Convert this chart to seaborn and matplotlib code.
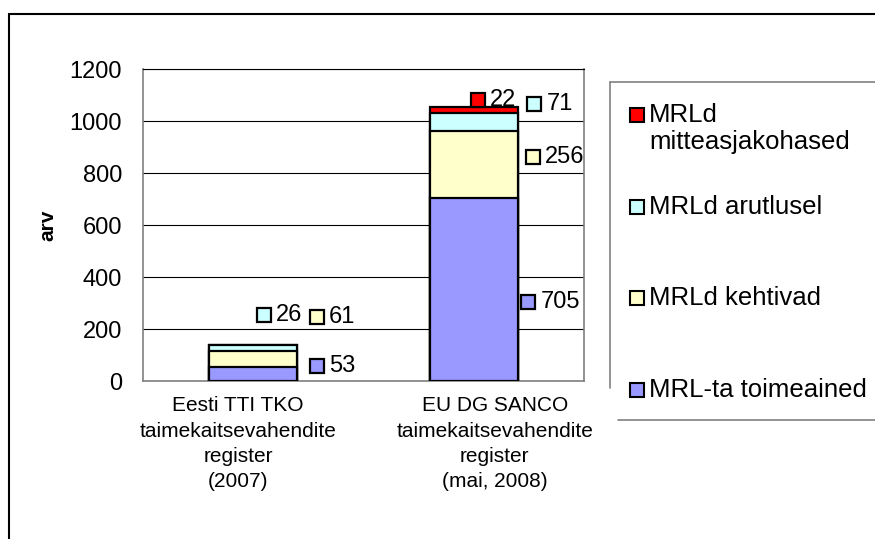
import numpy as np
import pandas as pd
import matplotlib
matplotlib.use("Agg")
import matplotlib.pyplot as plt
import matplotlib.transforms as mtransforms
from matplotlib.lines import Line2D
from matplotlib.patches import Rectangle
import seaborn as sns

# --- data -------------------------------------------------------------
categories = [
    "Eesti TTI TKO\ntaimekaitsevahendite\nregister\n(2007)",
    "EU DG SANCO\ntaimekaitsevahendite\nregister\n(mai, 2008)",
]
series_names = ["MRL-ta toimeained", "MRLd kehtivad", "MRLd arutlusel", "MRLd\nmitteasjakohased"]
mrl_ta = [53, 705]
mrl_kehtivad = [61, 256]
mrl_arutlusel = [26, 71]
mrl_mitteasjakohased = [0, 22]
y_ticks = [0, 200, 400, 600, 800, 1000, 1200]

# --- styling ----------------------------------------------------------
colors = ["#9999FF", "#FFFFCC", "#CCFFFF", "#FF0000"]
# label square offsets (pixels) from (bar right edge, segment middle)
label_offsets = {
    (0, 0): (19.5, 8), (0, 1): (19.5, 42), (0, 2): (-33.5, 33),
    (1, 0): (10.5, -13), (1, 1): (15.5, 7), (1, 2): (16.5, 18), (1, 3): (-39.5, 10),
}
# horizontal shift (pixels) of the category labels, as Excel placed them
xlabel_shift = [-15, 21]

W, H = 875, 539
sns.set_theme(style="white")
plt.rcParams["font.family"] = ["Liberation Sans", "DejaVu Sans"]
plt.rcParams["text.color"] = "black"
plt.rcParams["xtick.labelcolor"] = "black"
plt.rcParams["ytick.labelcolor"] = "black"
plt.rcParams["axes.labelcolor"] = "black"


def fx(x):
    return x / W


def fy(y):
    return 1 - y / H


fig = plt.figure(figsize=(W / 100, H / 100), dpi=100)
ax = fig.add_axes([fx(143), fy(381), (584 - 143) / W, (381 - 69) / H])

layers = [mrl_ta, mrl_kehtivad, mrl_arutlusel, mrl_mitteasjakohased]
cum = np.cumsum(np.array(layers), axis=0)

# stacked bars: draw cumulative totals from the top layer down
for i in range(len(layers) - 1, -1, -1):
    df = pd.DataFrame({"cat": categories, "value": cum[i]})
    sns.barplot(data=df, x="cat", y="value", color=colors[i], saturation=1,
                width=0.4, edgecolor="black", linewidth=1.6, ax=ax, zorder=3)

ax.set_ylim(0, 1200)
ax.set_xlim(-0.5, 1.5)
ax.set_yticks(y_ticks)
ax.set_yticklabels([str(t) for t in y_ticks], fontsize=17)
ax.tick_params(axis="y", direction="inout", length=7, width=0.8, color="#404040", pad=11.5)
ax.tick_params(axis="x", which="major", length=0, labelsize=15, pad=11)
ax.set_xticks([-0.5, 0.5, 1.5], minor=True)
ax.tick_params(axis="x", which="minor", direction="out", length=4.5, width=0.8, color="#404040")
for lab, shift in zip(ax.get_xticklabels(), xlabel_shift):
    lab.set_linespacing(1.42)
    lab.set_transform(lab.get_transform() + mtransforms.Affine2D().translate(shift, 0))
ax.set_xlabel("")
ax.set_ylabel("arv", fontsize=15, fontweight="bold")
ax.yaxis.set_label_coords((57 - 143) / (584 - 143), 0.5)
ax.grid(axis="y", color="black", linewidth=0.8, zorder=0)
ax.set_axisbelow(True)
for side in ["left", "bottom", "right"]:
    ax.spines[side].set_color("#808080")
    ax.spines[side].set_linewidth(1.2)
ax.spines["top"].set_color("black")
ax.spines["top"].set_linewidth(0.8)

# data labels with colour key squares
for c in range(len(categories)):
    for s in range(len(layers)):
        val = layers[s][c]
        if val == 0:
            continue
        mid = cum[s][c] - val / 2
        dx, dy = label_offsets[(c, s)]
        tr = mtransforms.offset_copy(ax.transData, fig=fig, x=dx, y=dy, units="dots")
        ax.plot(c + 0.2, mid, marker="s", markersize=10, markerfacecolor=colors[s],
                markeredgecolor="black", markeredgewidth=1.6, transform=tr, zorder=5,
                clip_on=False)
        tr2 = mtransforms.offset_copy(ax.transData, fig=fig, x=dx + 12, y=dy, units="dots")
        ax.text(c + 0.2, mid, str(val), transform=tr2, fontsize=17, va="center",
                ha="left", zorder=5)

# legend (drawn by hand, Excel style)
leg_y = [390, 298, 207, 115]
for s in range(len(series_names)):
    sq = 14
    fig.patches.append(Rectangle((fx(637 - sq / 2), fy(leg_y[s] + sq / 2)), sq / W, sq / H,
                                 facecolor=colors[s], edgecolor="black", linewidth=1.5,
                                 transform=fig.transFigure, figure=fig))
    for k, line in enumerate(series_names[s].split("\n")):
        fig.text(fx(649), fy(leg_y[s] + 27 * k), line, fontsize=18.5, va="center", ha="left")

gray = "#808080"
fig.add_artist(Line2D([fx(610), fx(610)], [fy(82), fy(388)], color=gray, lw=1.2))
fig.add_artist(Line2D([fx(610), fx(880)], [fy(82), fy(82)], color=gray, lw=1.2))
fig.add_artist(Line2D([fx(618), fx(880)], [fy(420), fy(420)], color=gray, lw=1.2))

# outer chart frame
fig.add_artist(Line2D([fx(9), fx(9)], [fy(14), fy(545)], color="black", lw=1.5))
fig.add_artist(Line2D([fx(9), fx(880)], [fy(14), fy(14)], color="black", lw=1.5))

fig.savefig("out.png", dpi=100)
